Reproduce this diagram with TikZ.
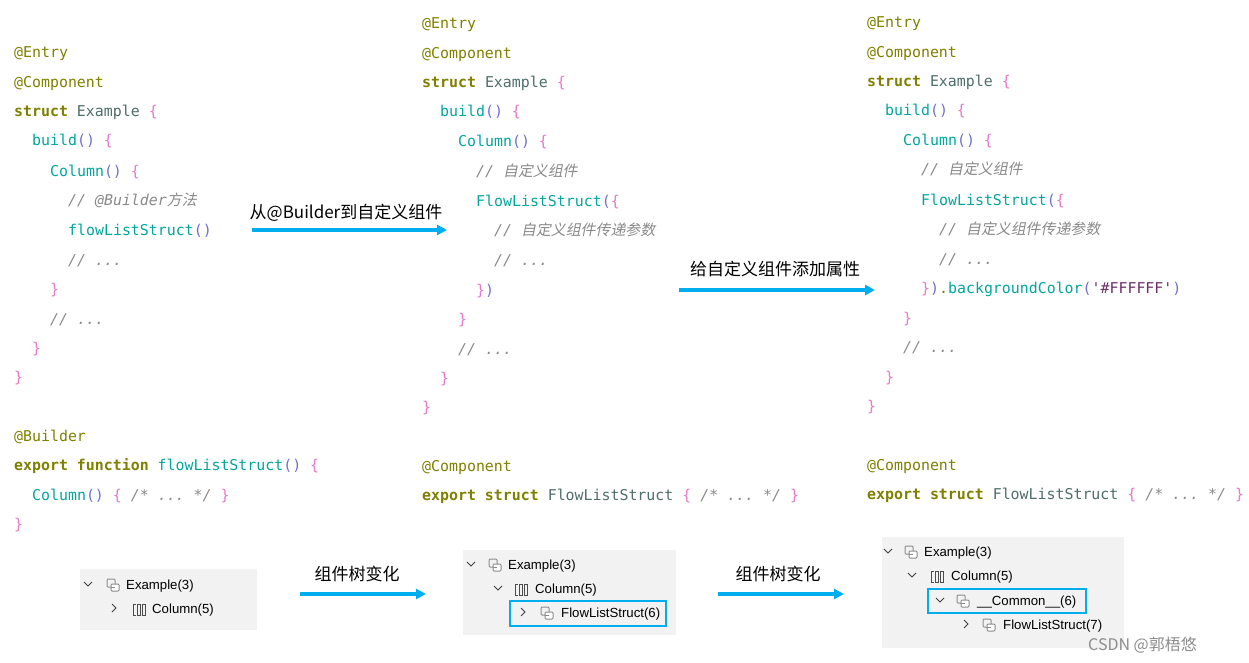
\documentclass[tikz,border=0pt]{standalone}
\usetikzlibrary{arrows.meta}
\usepackage{fontspec}
\setmainfont{Liberation Sans}
\setmonofont{DejaVu Sans Mono}
\newfontfamily\cjk{Noto Sans CJK SC}
\newfontfamily\cjki[FakeSlant=0.2]{Noto Sans CJK SC}
\definecolor{kwc}{HTML}{808000}
\definecolor{tyc}{HTML}{4E6E6A}
\definecolor{fnc}{HTML}{00A79D}
\definecolor{pac}{HTML}{6F6FCC}
\definecolor{brc}{HTML}{E87AC8}
\definecolor{cmc}{HTML}{8A8A8A}
\definecolor{stc}{HTML}{6B2F6B}
\definecolor{arc}{HTML}{00AEEF}
\definecolor{pnl}{HTML}{F2F2F2}
\definecolor{icn}{HTML}{8C8C8C}
\newcommand\kw[1]{\textcolor{kwc}{#1}}
\newcommand\ty[1]{\textcolor{tyc}{#1}}
\newcommand\fn[1]{\textcolor{fnc}{#1}}
\newcommand\pa[1]{\textcolor{pac}{#1}}
\newcommand\brr[1]{\textcolor{brc}{#1}}
\newcommand\cmt[1]{\textcolor{cmc}{\itshape #1}}
\newcommand\cz[1]{{\cjki #1}}
\newcommand\stq[1]{\textcolor{stc}{#1}}
\newcommand\cl[4]{\node[codet] (#1) at (#2,#3) {#4};}
\begin{document}
\begin{tikzpicture}[x=1pt,y=-1pt,
  codet/.style={anchor=base west,inner sep=0pt,font=\ttfamily\fontsize{14.9}{16}\selectfont},
  lbl/.style={anchor=base,inner sep=0pt,font=\cjk\fontsize{17}{19}\selectfont},
  tree/.style={anchor=base west,inner sep=0pt,font=\fontsize{13.2}{15}\selectfont},
  arr/.style={draw=arc,line width=3.2pt,-{Triangle[length=10pt,width=10pt]}},
  panel/.style={fill=pnl,draw=none},
  hl/.style={draw=arc,line width=2.3pt},
  chev/.style={draw=black!75,line width=1pt}]
\useasboundingbox (0,0) rectangle (1249,663);
\fill[white] (0,0) rectangle (1249,663);
% column 1
\def\X{14}
\cl{a1}{\X}{58}{\kw{@Entry}}
\cl{a2}{\X}{88}{\kw{@Component}}
\cl{a3}{\X}{117}{\kw{\bfseries struct} \ty{Example} \brr{\{}}
\cl{a4}{32}{146}{\fn{build}\pa{()} \brr{\{}}
\cl{a5}{50}{176}{\fn{Column}\pa{()} \brr{\{}}
\cl{a6}{68}{205}{\cmt{// @Builder\cz{方法}}}
\cl{a7}{68}{235}{\fn{flowListStruct}\pa{()}}
\cl{a8}{68}{265}{\cmt{// ...}}
\cl{a9}{50}{294}{\brr{\}}}
\cl{a10}{50}{324}{\cmt{// ...}}
\cl{a11}{32}{353}{\brr{\}}}
\cl{a12}{\X}{382}{\brr{\}}}
\cl{a13}{\X}{441}{\kw{@Builder}}
\cl{a14}{\X}{470}{\kw{\bfseries export function} \fn{flowListStruct}\pa{()} \brr{\{}}
\cl{a15}{32}{500}{\fn{Column}\pa{()} \brr{\{} \cmt{/* ... */} \brr{\}}}
\cl{a16}{\X}{529}{\brr{\}}}
% column 2
\def\X{422}
\cl{b1}{\X}{29}{\kw{@Entry}}
\cl{b2}{\X}{59}{\kw{@Component}}
\cl{b3}{\X}{88}{\kw{\bfseries struct} \ty{Example} \brr{\{}}
\cl{b4}{440}{117}{\fn{build}\pa{()} \brr{\{}}
\cl{b5}{458}{147}{\fn{Column}\pa{()} \brr{\{}}
\cl{b6}{476}{176}{\cmt{// \cz{自定义组件}}}
\cl{b7}{476}{206}{\fn{FlowListStruct}\pa{(}\brr{\{}}
\cl{b8}{494}{235}{\cmt{// \cz{自定义组件传递参数}}}
\cl{b9}{494}{265}{\cmt{// ...}}
\cl{b10}{476}{295}{\brr{\}}\pa{)}}
\cl{b11}{458}{324}{\brr{\}}}
\cl{b12}{458}{354}{\cmt{// ...}}
\cl{b13}{440}{383}{\brr{\}}}
\cl{b14}{\X}{412}{\brr{\}}}
\cl{b15}{\X}{471}{\kw{@Component}}
\cl{b16}{\X}{500}{\kw{\bfseries export struct} \ty{FlowListStruct} \brr{\{} \cmt{/* ... */} \brr{\}}}
% column 3
\def\X{867}
\cl{c1}{\X}{28}{\kw{@Entry}}
\cl{c2}{\X}{58}{\kw{@Component}}
\cl{c3}{\X}{87}{\kw{\bfseries struct} \ty{Example} \brr{\{}}
\cl{c4}{885}{116}{\fn{build}\pa{()} \brr{\{}}
\cl{c5}{903}{146}{\fn{Column}\pa{()} \brr{\{}}
\cl{c6}{921}{175}{\cmt{// \cz{自定义组件}}}
\cl{c7}{921}{205}{\fn{FlowListStruct}\pa{(}\brr{\{}}
\cl{c8}{939}{234}{\cmt{// \cz{自定义组件传递参数}}}
\cl{c9}{939}{264}{\cmt{// ...}}
\cl{c10}{921}{293}{\brr{\}}\pa{)}\kw{.}\fn{backgroundColor}\pa{(}\stq{'\#FFFFFF'}\pa{)}}
\cl{c11}{903}{323}{\brr{\}}}
\cl{c12}{903}{352}{\cmt{// ...}}
\cl{c13}{885}{382}{\brr{\}}}
\cl{c14}{\X}{411}{\brr{\}}}
\cl{c15}{\X}{470}{\kw{@Component}}
\cl{c16}{\X}{499}{\kw{\bfseries export struct} \ty{FlowListStruct} \brr{\{} \cmt{/* ... */} \brr{\}}}
% arrows
\coordinate (p1s) at (252,230); \coordinate (p1e) at (447,230);
\draw[arr] (p1s) -- (p1e);
\node[lbl] (l1) at (346,218) {从@Builder到自定义组件};
\coordinate (p2s) at (679,290); \coordinate (p2e) at (875,290);
\draw[arr] (p2s) -- (p2e);
\node[lbl] (l2) at (775,275) {给自定义组件添加属性};
\coordinate (p3s) at (300,594); \coordinate (p3e) at (426,594);
\draw[arr] (p3s) -- (p3e);
\node[lbl] (l3) at (357,580) {组件树变化};
\coordinate (p4s) at (718,594); \coordinate (p4e) at (844,594);
\draw[arr] (p4s) -- (p4e);
\node[lbl] (l4) at (778,580) {组件树变化};
% icon macros
\newcommand\cicon[2]{\begin{scope}[shift={(#1,#2)}]
 \draw[icn,line width=1pt,rounded corners=1pt] (-6,-6) rectangle (2,2);
 \draw[icn,line width=1pt,fill=white,rounded corners=1pt] (-2,-1) rectangle (6,6);
 \draw[icn,line width=0.8pt] (-2,2) -- (2,2);\end{scope}}
\newcommand\colicon[2]{\begin{scope}[shift={(#1,#2)}]
 \draw[black!70,line width=1pt] (-6,-5) -- (-6,6) (-6,-5)--(-3,-5) (-6,6)--(-3,6);
 \draw[black!70,line width=0.9pt] (-2,-5) rectangle (1,6) (3,-5) rectangle (6,6);\end{scope}}
\newcommand\chdown[2]{\draw[chev] (#1-4,#2-2) -- (#1,#2+2) -- (#1+4,#2-2);}
\newcommand\chright[2]{\draw[chev] (#1-2,#2-4) -- (#1+2,#2) -- (#1-2,#2+4);}
% panel 1
\fill[panel] (80,569) rectangle (257,630);
\chdown{88}{584}
\cicon{113}{585}
\node[tree] (t1a) at (126,589.5) {Example(3)};
\chright{114}{608}
\colicon{139}{609}
\node[tree] (t1b) at (152,613.5) {Column(5)};
% panel 2
\fill[panel] (463,550) rectangle (676,635);
\chdown{471}{564}
\cicon{495}{565}
\node[tree] (t2a) at (508,569.5) {Example(3)};
\chdown{498}{588}
\colicon{521}{589}
\node[tree] (t2b) at (535,593.5) {Column(5)};
\draw[hl] (510,601) rectangle (666,626);
\chright{523}{612}
\cicon{547}{613}
\node[tree] (t2c) at (561,617.5) {FlowListStruct(6)};
% panel 3
\fill[panel] (882,537) rectangle (1124,648);
\chdown{888}{551}
\cicon{911}{552}
\node[tree] (t3a) at (924,556.5) {Example(3)};
\chdown{912}{575}
\colicon{937}{576}
\node[tree] (t3b) at (951,580.5) {Column(5)};
\draw[hl] (928,589) rectangle (1086,613);
\chdown{940}{600}
\cicon{963}{601}
\node[tree] (t3c) at (977,605.5) {\_\_Common\_\_(6)};
\chright{966}{624}
\cicon{989}{625}
\node[tree] (t3d) at (1003,629.5) {FlowListStruct(7)};
\node[anchor=base west,inner sep=0pt,font=\cjk\fontsize{16}{18}\selectfont,text=black!45] (wm) at (1088,650) {CSDN @郭梧悠};
\end{tikzpicture}
\end{document}
